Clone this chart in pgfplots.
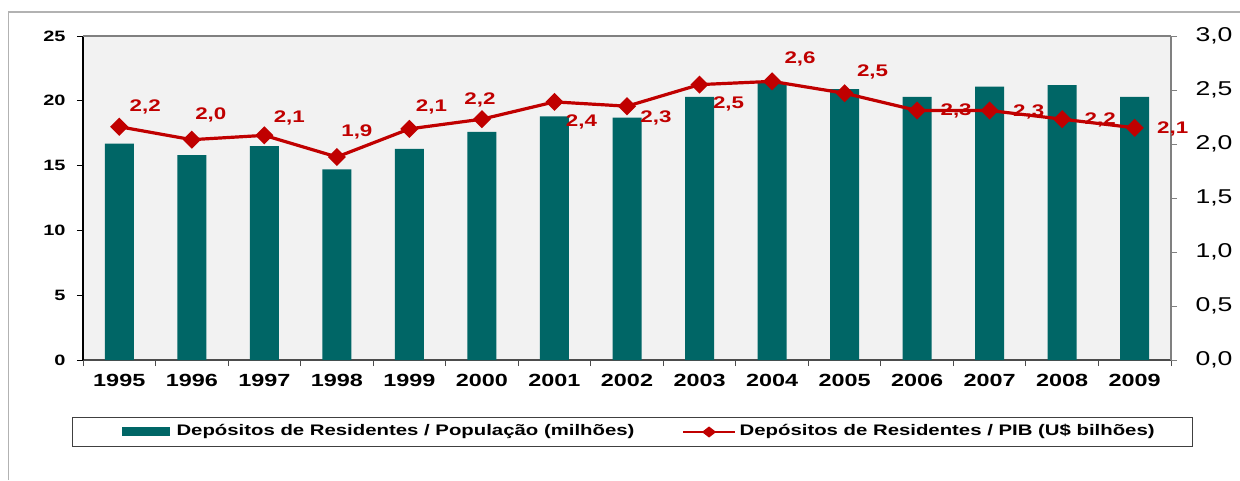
\documentclass[border=0pt]{standalone}
\usepackage{pgfplots}
\pgfplotsset{compat=1.18}
\usepackage{fontspec}
\setmainfont{Liberation Sans}[FakeStretch=1.33]
\definecolor{dred}{HTML}{C00000}
\definecolor{dteal}{HTML}{006666}
\definecolor{pbg}{HTML}{F2F2F2}
\begin{document}
\begin{tikzpicture}
\useasboundingbox (0,0) rectangle (1240pt,480pt);
\fill[white] (0,0) rectangle (1240pt,480pt);
\draw[black!30, line width=1.3pt] (8.5pt,0) -- (8.5pt,468pt) -- (1240pt,468pt);
\begin{axis}[
  at={(83pt,120pt)}, anchor=south west, scale only axis,
  width=1088pt, height=324pt,
  xmin=-0.5, xmax=14.5, ymin=0, ymax=25,
  axis background/.style={fill=pbg},
  axis x line*=bottom, axis y line*=left,
  x axis line style={draw=black!70, line width=1.3pt, -},
  y axis line style={draw=black, line width=1.3pt, -},
  xtick={-0.5,0.5,...,14.5},
  xticklabels={1995,1996,1997,1998,1999,2000,2001,2002,2003,2004,2005,2006,2007,2008,2009,{}},
  xticklabel style={xshift=36.27pt, yshift=-5pt, font=\fontsize{17.6}{17.6}\bfseries\selectfont},
  ytick={0,5,...,25},
  yticklabel style={xshift=-8pt, font=\fontsize{15}{15}\bfseries\selectfont},
  tick align=outside, major tick length=6pt,
  x tick style={draw=black!70, line width=0.9pt},
  y tick style={draw=black, line width=0.9pt},
  /pgf/number format/assume math mode=true,
]
\addplot[ybar, bar width=29pt, fill=dteal, draw=none] table {
x y
0 16.7
1 15.8
2 16.5
3 14.7
4 16.3
5 17.6
6 18.8
7 18.7
8 20.3
9 21.4
10 20.9
11 20.3
12 21.1
13 21.2
14 20.3
};
\end{axis}
\begin{axis}[
  at={(83pt,120pt)}, anchor=south west, scale only axis,
  width=1088pt, height=324pt,
  xmin=-0.5, xmax=14.5, ymin=0, ymax=3,
  clip=false,
  axis x line*=top, axis y line*=right,
  axis line style={draw=black!50, line width=1.3pt, -},
  xtick=\empty,
  ytick={0,0.5,...,3},
  tick align=outside, major tick length=6pt,
  y tick style={draw=black!50, line width=0.9pt},
  yticklabel style={xshift=15pt, font=\fontsize{20}{20}\selectfont,
    /pgf/number format/.cd, fixed, fixed zerofill, precision=1, use comma, assume math mode=true},
  legend columns=2,
  legend style={at={(axis description cs:-0.0101,-0.1759)}, anchor=north west,
    draw=black!75, line width=1pt, fill=white,
    inner xsep=0pt, inner ysep=7.5pt, column sep=0pt,
    nodes={inner sep=0pt, text height=11pt, text depth=3pt,
      font=\fontsize{15.3}{15.3}\bfseries\selectfont}},
]
\addlegendimage{legend image code/.code={
  \fill[dteal] (0pt,-4pt) rectangle (47pt,4pt);
  \path (-49pt,0pt) (54pt,0pt);}}
\addlegendentry{Depósitos de Residentes / População (milhões)}
\addplot[dred, line width=3.2pt, mark=square*, mark size=4.8pt,
  mark options={rotate=45, solid},
  point meta=explicit symbolic,
  visualization depends on={\thisrow{dx} \as \lx},
  visualization depends on={\thisrow{dy} \as \ly},
  nodes near coords,
  nodes near coords style={anchor=center, inner sep=0pt, xshift=\lx pt, yshift=\ly pt,
    text=dred, font=\fontsize{16.8}{16.8}\bfseries\selectfont},
  legend image code/.code={
    \draw[dred, line width=2.8pt] (0pt,0pt) -- (52pt,0pt);
    \fill[dred] (26pt,0pt) +(-4.5pt,0pt) -- +(0pt,3.5pt) -- +(4.5pt,0pt) -- +(0pt,-3.5pt) -- cycle;
    \path (-47pt,0pt) (55pt,0pt);},
] table[meta=lab] {
x y lab dx dy
0 2.16 2,2 26 20
1 2.04 2,0 19 25
2 2.08 2,1 25 17
3 1.88 1,9 20 25
4 2.14 2,1 22 22
5 2.23 2,2 -2 19
6 2.39 2,4 27 -20
7 2.35 2,3 29 -12
8 2.55 2,5 29 -19
9 2.58 2,6 28 22
10 2.47 2,5 28 21
11 2.31 2,3 39 0
12 2.31 2,3 39 -1
13 2.23 2,2 38 -1
14 2.15 2,1 38 -1
};
\addlegendentry{Depósitos de Residentes / PIB (U\$ bilhões)\kern38pt\mbox{}}
\end{axis}
\end{tikzpicture}
\end{document}
